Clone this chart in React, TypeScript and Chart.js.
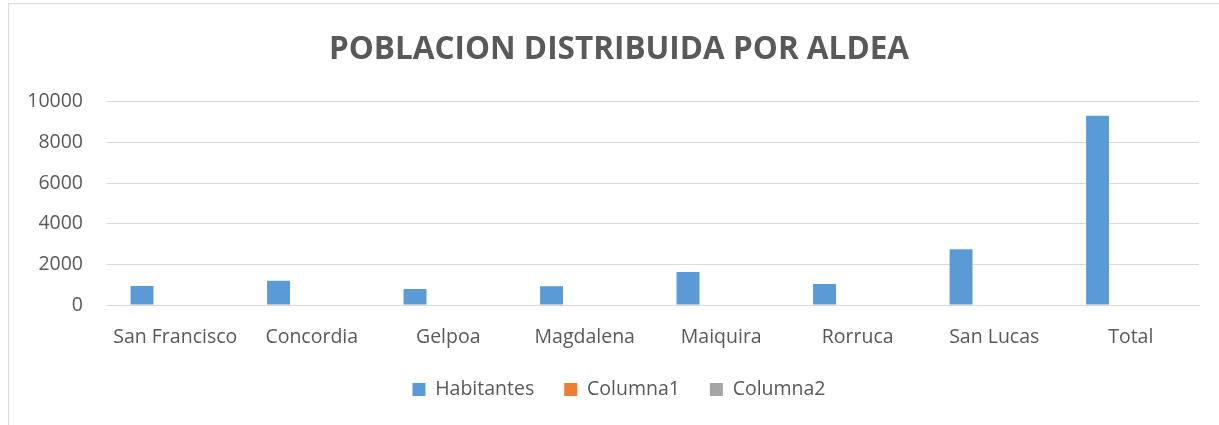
import React, { useEffect, useRef } from "react";
import { Chart, registerables } from "chart.js";

Chart.register(...registerables);

const categories = ["San Francisco", "Concordia", "Gelpoa", "Magdalena", "Maiquira", "Rorruca", "San Lucas", "Total"];
const habitantes = [936, 1197, 788, 921, 1626, 1034, 2744, 9310];
const columna1: (number | null)[] = [null, null, null, null, null, null, null, null];
const columna2: (number | null)[] = [null, null, null, null, null, null, null, null];
const titleText = "POBLACION DISTRIBUIDA POR ALDEA";

const FONT = "'Open Sans', 'DejaVu Sans', sans-serif";
const TEXT = "#595959";
const TICK_SIZE = 19.5;

// Shift the title and legend boxes so they are centred on the whole chart box, as in the original
const centerBoxes = {
  id: "centerBoxes",
  afterLayout(chart: any) {
    for (const box of [chart.titleBlock, chart.legend]) {
      if (!box) continue;
      box.left = 30;
      box.width = box.right - box.left;
    }
  },
};

export default function App() {
  const ref = useRef<HTMLCanvasElement | null>(null);
  useEffect(() => {
    document.body.style.margin = "0";
    document.documentElement.style.overflow = "hidden";
    const common = { borderWidth: 0, categoryPercentage: 0.73, barPercentage: 0.69 };
    const chart = new Chart(ref.current!, {
      type: "bar",
      data: {
        labels: categories,
        datasets: [
          { label: "Habitantes", data: habitantes, backgroundColor: "#5B9BD5", ...common },
          { label: "Columna1", data: columna1, backgroundColor: "#ED7D31", ...common },
          { label: "Columna2", data: columna2, backgroundColor: "#A5A5A5", ...common },
        ],
      },
      plugins: [centerBoxes],
      options: {
        animation: false,
        responsive: true,
        maintainAspectRatio: false,
        layout: { padding: { left: 0, right: 25, top: 0, bottom: 15.75 } },
        plugins: {
          title: {
            display: true,
            text: titleText,
            color: TEXT,
            font: { family: FONT, size: 31.5, weight: "bold", lineHeight: 1.2 },
            padding: { top: 27, bottom: 33 },
          },
          legend: {
            position: "bottom",
            labels: {
              color: TEXT,
              font: { family: FONT, size: TICK_SIZE },
              boxWidth: 13,
              boxHeight: 13,
              padding: 30,
            },
          },
          tooltip: { enabled: false },
        },
        scales: {
          x: {
            grid: { display: false, drawTicks: false },
            border: { display: true, color: "#D9D9D9" },
            ticks: { color: TEXT, font: { family: FONT, size: TICK_SIZE }, padding: 21, maxRotation: 0 },
            afterFit: (s: any) => { s.height = 44.75; },
          },
          y: {
            min: 0,
            max: 10000,
            grid: { color: "#D9D9D9", drawTicks: false },
            border: { display: false },
            ticks: {
              stepSize: 2000,
              color: TEXT,
              font: { family: FONT, size: TICK_SIZE },
              padding: 24,
              callback: (v: any) => String(v),
            },
            afterFit: (s: any) => { s.width = 98; },
          },
        },
      },
    });
    return () => chart.destroy();
  }, []);
  return (
    <div style={{ position: "absolute", left: 8, top: 3, width: 1215, height: 421, borderLeft: "1px solid #D9D9D9", borderTop: "1px solid #D9D9D9", background: "#fff", overflow: "hidden" }}>
      <canvas ref={ref} />
    </div>
  );
}
